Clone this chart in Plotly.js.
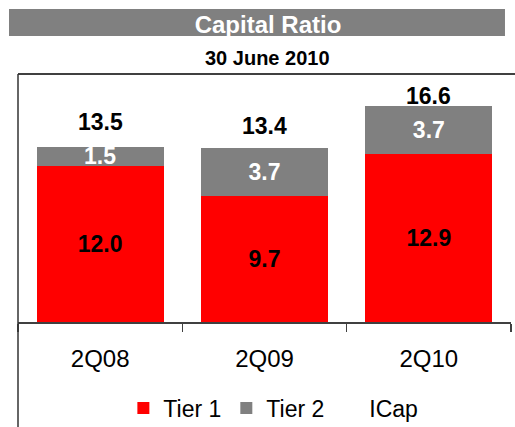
<!DOCTYPE html>
<html>
<head>
<meta charset="utf-8">
<script src="https://cdn.plot.ly/plotly-3.0.1.min.js"></script>
<style>html,body{margin:0;padding:0;background:#fff;}#chart{width:515px;height:427px;}</style>
</head>
<body>
<div id="chart"></div>
<script>
// ---- data ----
var categories = ['2Q08', '2Q09', '2Q10'];
var tier1 = [12.0, 9.7, 12.9];
var tier2 = [1.5, 3.7, 3.7];
var icap = [13.5, 13.4, 16.6];
var seriesNames = ['Tier 1', 'Tier 2', 'ICap'];
var titleText = 'Capital Ratio';
var subtitleText = '30 June 2010';

// ---- styles ----
var FONT = 'Liberation Sans, Arial, sans-serif';
var RED = '#FF0000';
var GREY = '#808080';
var totalLabelShift = [25, 22, 10];

function fmt(v) { return v.toFixed(1); }

var traces = [
  {
    type: 'bar', name: seriesNames[0], x: categories, y: tier1,
    marker: {color: RED, line: {width: 0}},
    text: tier1.map(fmt), textposition: 'inside', insidetextanchor: 'middle',
    textangle: 0, constraintext: 'none',
    textfont: {family: FONT, size: 23, color: '#000000', weight: 'bold'},
    hoverinfo: 'skip'
  },
  {
    type: 'bar', name: seriesNames[1], x: categories, y: tier2,
    marker: {color: GREY, line: {width: 0}},
    text: tier2.map(fmt), textposition: 'inside', insidetextanchor: 'middle',
    textangle: 0, constraintext: 'none',
    textfont: {family: FONT, size: 23, color: '#FFFFFF', weight: 'bold'},
    hoverinfo: 'skip'
  },
  {
    type: 'scatter', mode: 'lines', name: seriesNames[2], x: categories, y: icap,
    line: {width: 0, color: 'rgba(0,0,0,0)'}, hoverinfo: 'skip'
  }
];

var annotations = icap.map(function (v, i) {
  return {
    x: categories[i], y: v, xref: 'x', yref: 'y', text: fmt(v),
    showarrow: false, yanchor: 'middle', xanchor: 'center', yshift: totalLabelShift[i],
    font: {family: FONT, size: 23, color: '#000000', weight: 'bold'}
  };
});
annotations.push({
  xref: 'paper', yref: 'paper', x: 0.507, y: 1.0665, text: subtitleText,
  showarrow: false, xanchor: 'center', yanchor: 'middle',
  font: {family: FONT, size: 20, color: '#000000', weight: 'bold'}
});

var layout = {
  width: 515, height: 427,
  margin: {l: 18, r: 4, t: 74, b: 105, pad: 0, autoexpand: false},
  paper_bgcolor: '#FFFFFF', plot_bgcolor: '#FFFFFF',
  barmode: 'stack', bargap: 0.227,
  showlegend: true,
  title: {
    text: titleText, x: 0.5204, xanchor: 'center', y: 0.9415, yanchor: 'middle',
    font: {family: FONT, size: 24, color: '#FFFFFF', weight: 'bold'}
  },
  xaxis: {
    type: 'category', range: [-0.5, 2.5], fixedrange: true, automargin: false,
    showline: true, linecolor: '#404040', linewidth: 1.5,
    ticks: 'outside', tickson: 'boundaries', ticklen: 8, tickcolor: '#404040', tickwidth: 1.5,
    ticklabelstandoff: 15,
    tickfont: {family: FONT, size: 24, color: '#000000'},
    showgrid: false, zeroline: false
  },
  yaxis: {
    range: [0, 19.08], visible: false, fixedrange: true, showgrid: false, zeroline: false
  },
  legend: {
    orientation: 'h', x: 0.518, xanchor: 'center', y: -0.347, yanchor: 'middle',
    font: {family: FONT, size: 23, color: '#000000'},
    traceorder: 'normal', bgcolor: 'rgba(0,0,0,0)'
  },
  shapes: [
    {type: 'rect', xref: 'paper', yref: 'paper', x0: -0.01826, x1: 0.9878, y0: 1.1532, y1: 1.2621,
     fillcolor: GREY, line: {width: 0}, layer: 'below'},
    {type: 'line', xref: 'paper', yref: 'paper', x0: 0, x1: 1.0081, y0: 1, y1: 1,
     line: {color: '#000000', width: 1.5}, layer: 'above'},
    {type: 'line', xref: 'paper', yref: 'paper', x0: 0, x1: 0, y0: -0.4234, y1: 1,
     line: {color: '#333333', width: 1.5}, layer: 'above'}
  ],
  annotations: annotations
};

Plotly.newPlot('chart', traces, layout, {displayModeBar: false, staticPlot: true});
</script>
</body>
</html>
